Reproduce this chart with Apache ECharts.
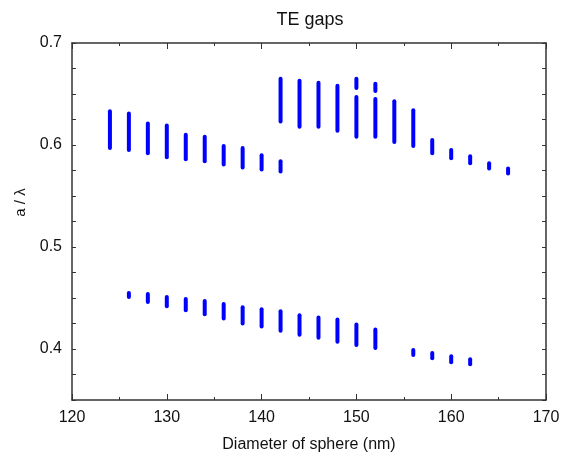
<!DOCTYPE html>
<html>
<head>
<meta http-equiv="Content-Type" content="text/html; charset=UTF-8">
<title>TE gaps</title>
<script src="https://cdn.jsdelivr.net/npm/echarts@6/dist/echarts.min.js"></script>
</head>
<body style="margin:0">
<div id="gaps" style="width: 565px; height: 458px;"></div>
<script type="text/javascript">
    // diameter (nm), gap bottom, gap top  (a / lambda)
    var upperD = [124, 126, 128, 130, 132, 134, 136, 138, 140, 142, 142, 144, 146, 148, 150, 150, 152, 152, 154, 156, 158, 160, 162, 164, 166];
    var upperLo = [0.597, 0.595, 0.592, 0.588, 0.586, 0.584, 0.581, 0.578, 0.576, 0.574, 0.623, 0.618, 0.618, 0.614, 0.608, 0.656, 0.608, 0.653, 0.603, 0.599, 0.592, 0.587, 0.582, 0.577, 0.572];
    var upperHi = [0.633, 0.631, 0.621, 0.619, 0.610, 0.608, 0.599, 0.597, 0.590, 0.584, 0.665, 0.663, 0.661, 0.658, 0.647, 0.665, 0.645, 0.660, 0.643, 0.634, 0.605, 0.595, 0.589, 0.582, 0.577];

    var lowerD = [126, 128, 130, 132, 134, 136, 138, 140, 142, 144, 146, 148, 150, 152, 156, 158, 160, 162];
    var lowerLo = [0.451, 0.446, 0.442, 0.438, 0.434, 0.430, 0.425, 0.422, 0.418, 0.414, 0.411, 0.407, 0.404, 0.401, 0.394, 0.391, 0.387, 0.385];
    var lowerHi = [0.455, 0.454, 0.451, 0.449, 0.447, 0.444, 0.441, 0.439, 0.437, 0.433, 0.431, 0.429, 0.424, 0.419, 0.399, 0.396, 0.393, 0.390];

    var yLabels = [0.4, 0.5, 0.6, 0.7];

    var data = [];
    for (var i = 0; i < upperD.length; i++) data.push([upperD[i], upperLo[i], upperHi[i]]);
    for (var j = 0; j < lowerD.length; j++) data.push([lowerD[j], lowerLo[j], lowerHi[j]]);

    var font = 'Liberation Sans, Arial, sans-serif';
    var frame = { show: true, onZero: false, lineStyle: { color: '#333', width: 1.5 } };

    var chart = echarts.init(document.getElementById('gaps'));
    chart.setOption({
        backgroundColor: '#fff',
        animation: false,
        title: {
            text: 'TE gaps',
            left: 305,
            top: 6,
            textAlign: 'center',
            textStyle: { fontFamily: font, fontSize: 18, fontWeight: 'normal', color: '#111' }
        },
        grid: { left: 72, right: 19, top: 43, bottom: 56 },
        xAxis: [{
            type: 'value', min: 120, max: 170, interval: 10,
            name: 'Diameter of sphere (nm)', nameLocation: 'middle', nameGap: 37,
            nameTextStyle: { fontFamily: font, fontSize: 16, color: '#111' },
            axisLine: frame,
            axisTick: { inside: true, length: 6, lineStyle: { color: '#333' } },
            minorTick: { show: true, splitNumber: 2, length: 3, lineStyle: { color: '#333' } },
            axisLabel: { fontFamily: font, fontSize: 16, color: '#111', margin: 10 },
            splitLine: { show: false }
        }, {
            type: 'value', min: 120, max: 170, interval: 10, position: 'top',
            axisLine: frame,
            axisTick: { inside: true, length: 6, lineStyle: { color: '#333' } },
            minorTick: { show: true, splitNumber: 2, length: 3, lineStyle: { color: '#333' } },
            axisLabel: { show: false },
            splitLine: { show: false }
        }],
        yAxis: [{
            type: 'value', min: 0.35, max: 0.7, interval: 0.025,
            name: 'a / λ', nameLocation: 'middle', nameGap: 43, nameRotate: 90,
            nameTextStyle: { fontFamily: font, fontSize: 15, color: '#111', padding: [0, 0, 0, 38] },
            axisLine: frame,
            axisTick: { inside: true, length: 4, lineStyle: { color: '#333' } },
            axisLabel: {
                fontFamily: font, fontSize: 16, color: '#111', margin: 10,
                formatter: function (v) {
                    for (var k = 0; k < yLabels.length; k++) {
                        if (Math.abs(v - yLabels[k]) < 1e-6) return yLabels[k].toFixed(1);
                    }
                    return '';
                }
            },
            splitLine: { show: false }
        }, {
            type: 'value', min: 0.35, max: 0.7, interval: 0.025, position: 'right',
            axisLine: frame,
            axisTick: { inside: true, length: 4, lineStyle: { color: '#333' } },
            axisLabel: { show: false },
            splitLine: { show: false }
        }],
        series: [{
            type: 'custom',
            xAxisIndex: 0,
            yAxisIndex: 0,
            data: data,
            encode: { x: 0, y: [1, 2] },
            renderItem: function (params, api) {
                var p1 = api.coord([api.value(0), api.value(1)]);
                var p2 = api.coord([api.value(0), api.value(2)]);
                return {
                    type: 'line',
                    shape: { x1: p1[0], y1: p1[1], x2: p2[0], y2: p2[1] },
                    style: { stroke: '#0000ff', lineWidth: 4, lineCap: 'round' }
                };
            }
        }]
    });
</script>
</body>
</html>
